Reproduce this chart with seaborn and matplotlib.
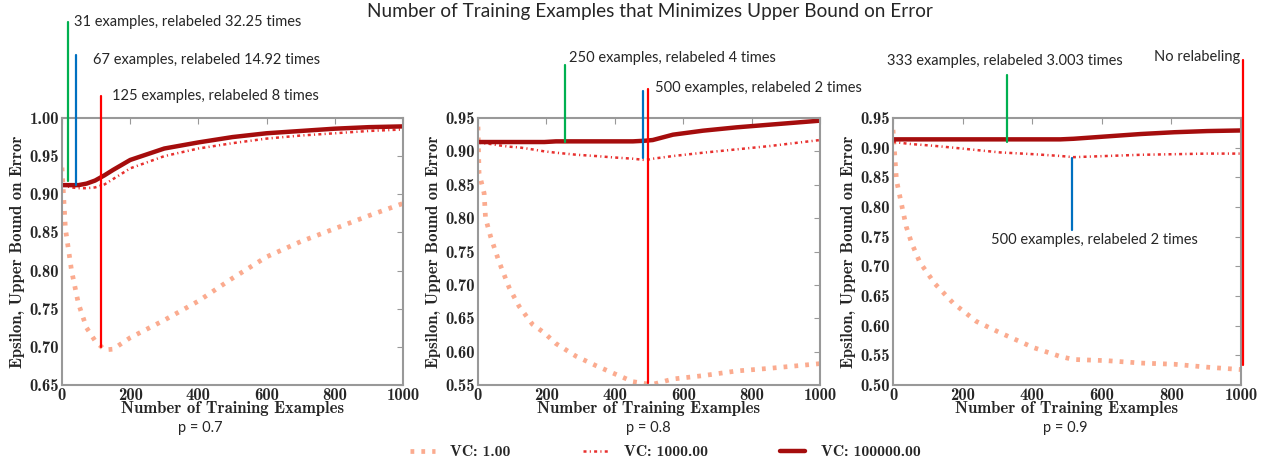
import pandas as pd
import matplotlib
matplotlib.use('Agg')
import matplotlib.pyplot as plt
import seaborn as sns

# --- Data ---
n_p7 = [0, 10, 28, 48, 72, 97, 125, 150, 200, 300, 400, 500, 600, 700, 800, 900, 1000]
vc1_p7 = [0.935, 0.855, 0.800, 0.757, 0.725, 0.708, 0.696, 0.697, 0.712, 0.735, 0.760, 0.790, 0.818, 0.838, 0.855, 0.872, 0.888]
vc1000_p7 = [0.912, 0.911, 0.909, 0.908, 0.908, 0.909, 0.913, 0.920, 0.934, 0.950, 0.960, 0.967, 0.973, 0.977, 0.980, 0.983, 0.985]
vc100000_p7 = [0.912, 0.912, 0.912, 0.912, 0.914, 0.918, 0.925, 0.932, 0.945, 0.960, 0.968, 0.975, 0.980, 0.983, 0.986, 0.988, 0.989]

n_p8 = [0, 3, 18, 22, 37, 62, 91, 120, 159, 194, 228, 287, 345, 394, 453, 490, 511, 570, 658, 756, 853, 1000]
vc1_p8 = [0.937, 0.868, 0.837, 0.800, 0.772, 0.734, 0.696, 0.668, 0.641, 0.628, 0.612, 0.593, 0.579, 0.568, 0.555, 0.552, 0.551, 0.559, 0.564, 0.571, 0.575, 0.582]
vc1000_p8 = [0.913, 0.913, 0.912, 0.912, 0.911, 0.909, 0.907, 0.906, 0.903, 0.900, 0.898, 0.895, 0.893, 0.891, 0.889, 0.887, 0.889, 0.893, 0.898, 0.903, 0.908, 0.917]
vc100000_p8 = [0.914, 0.914, 0.914, 0.914, 0.914, 0.914, 0.914, 0.914, 0.914, 0.914, 0.915, 0.915, 0.915, 0.915, 0.915, 0.916, 0.917, 0.925, 0.931, 0.936, 0.940, 0.946]

n_p9 = [0, 10, 24, 38, 53, 77, 120, 173, 240, 308, 404, 481, 519, 615, 712, 808, 904, 1000]
vc1_p9 = [0.930, 0.845, 0.806, 0.767, 0.740, 0.707, 0.671, 0.638, 0.607, 0.588, 0.563, 0.548, 0.543, 0.541, 0.537, 0.535, 0.530, 0.526]
vc1000_p9 = [0.910, 0.909, 0.908, 0.907, 0.906, 0.905, 0.903, 0.900, 0.896, 0.892, 0.889, 0.886, 0.884, 0.886, 0.888, 0.889, 0.890, 0.890]
vc100000_p9 = [0.914, 0.914, 0.914, 0.914, 0.914, 0.914, 0.914, 0.914, 0.914, 0.914, 0.914, 0.914, 0.915, 0.919, 0.923, 0.926, 0.928, 0.929]

p_labels = ['p = 0.7', 'p = 0.8', 'p = 0.9']
y_limits = [(0.65, 1.00), (0.55, 0.95), (0.50, 0.95)]
vc_labels = ['VC: 1.00', 'VC: 1000.00', 'VC: 100000.00']

# annotation lines: (x, y_bottom, y_top, colour)
marks_p7 = [(18, 0.918, 1.126, '#00b050'), (41, 0.912, 1.082, '#0070c0'), (114, 0.700, 1.029, '#ff0000')]
notes_p7 = [(35, 1.126, '31 examples, relabeled 32.25 times', 'left'),
            (91, 1.076, '67 examples, relabeled 14.92 times', 'left'),
            (147, 1.029, '125 examples, relabeled 8 times', 'left')]
marks_p8 = [(254, 0.914, 1.029, '#00b050'), (482, 0.890, 0.990, '#0070c0'), (497, 0.553, 0.993, '#ff0000')]
notes_p8 = [(266, 1.040, '250 examples, relabeled 4 times', 'left'),
            (518, 0.995, '500 examples, relabeled 2 times', 'left')]
marks_p9 = [(328, 0.910, 1.023, '#00b050'), (514, 0.882, 0.762, '#0070c0'), (1006, 0.533, 1.047, '#ff0000')]
notes_p9 = [(-17, 1.046, '333 examples, relabeled 3.003 times', 'left'),
            (997, 1.052, 'No relabeling', 'right'),
            (580, 0.744, '500 examples, relabeled 2 times', 'center')]

panels = [
    (n_p7, [vc1_p7, vc1000_p7, vc100000_p7], marks_p7, notes_p7),
    (n_p8, [vc1_p8, vc1000_p8, vc100000_p8], marks_p8, notes_p8),
    (n_p9, [vc1_p9, vc1000_p9, vc100000_p9], marks_p9, notes_p9),
]

styles = [
    dict(color='#fbab8f', lw=3.4, linestyle=(0, (0.8, 1.5))),
    dict(color='#e8302e', lw=1.8, linestyle=(0, (1.2, 1.3, 0.45, 1.3))),
    dict(color='#a50d0d', lw=3.2, linestyle='-'),
]

sns.set_style('white')
plt.rcParams['font.family'] = ['Lato', 'DejaVu Sans']

serif_bold = dict(family='cmb10', size=12)
note_font = dict(family='Lato', size=10.5)

W, H = 1271, 470
fig = plt.figure(figsize=(W / 100, H / 100), dpi=100)

# axes boxes in pixels: left, right
boxes = [(62, 403), (478, 820), (893, 1241)]
top_px, bottom_px = 118, 385

for i, (n, series, marks, notes) in enumerate(panels):
    l, r = boxes[i]
    ax = fig.add_axes([l / W, 1 - bottom_px / H, (r - l) / W, (bottom_px - top_px) / H])
    for vals, lab, st in zip(series, vc_labels, styles):
        df = pd.DataFrame({'n': n, 'eps': vals})
        sns.lineplot(data=df, x='n', y='eps', ax=ax, label=lab, legend=False, **st)
    ax.set_xlim(0, 1000)
    ax.set_ylim(*y_limits[i])
    ax.set_xticks(range(0, 1001, 200))
    lo, hi = y_limits[i]
    yt = [round(lo + 0.05 * k, 2) for k in range(int(round((hi - lo) / 0.05)) + 1)]
    ax.set_yticks(yt)
    ax.set_yticklabels([f'{v:.2f}' for v in yt], fontdict=serif_bold)
    ax.set_xticklabels([str(v) for v in range(0, 1001, 200)], fontdict=serif_bold)
    ax.tick_params(direction='in', top=True, right=True, length=4, color='#999999', pad=2)
    for sp in ax.spines.values():
        sp.set_color('#999999')
        sp.set_linewidth(1.5)
    ax.set_xlabel('Number of Training Examples', fontdict=serif_bold, labelpad=-1)
    ax.set_ylabel('Epsilon, Upper Bound on Error', fontdict=serif_bold, labelpad=3)

    for x, y0, y1, c in marks:
        ax.plot([x, x], [y0, y1], color=c, lw=1.6, clip_on=False, zorder=5)
    for x, y, txt, ha in notes:
        ax.text(x, y, txt, ha=ha, va='center', clip_on=False, **note_font)

    if i == 0:
        handles, labels = ax.get_legend_handles_labels()

p_x = [200, 648, 1065]
for px, lab in zip(p_x, p_labels):
    fig.text(px / W, 1 - 428 / H, lab, ha='center', va='center', fontsize=10.5, family='Lato')

fig.suptitle('Number of Training Examples that Minimizes Upper Bound on Error',
             x=650 / W, y=1 - 12 / H, va='center', fontsize=13.7, family='Lato')

fig.legend(handles, labels, loc='center', bbox_to_anchor=(665 / W, 1 - 452 / H), ncol=3,
           frameon=False, prop=dict(family='cmb10', size=11.3), columnspacing=4.6,
           handlelength=1.6, handletextpad=1.0)

fig.savefig('out.png', dpi=100)
